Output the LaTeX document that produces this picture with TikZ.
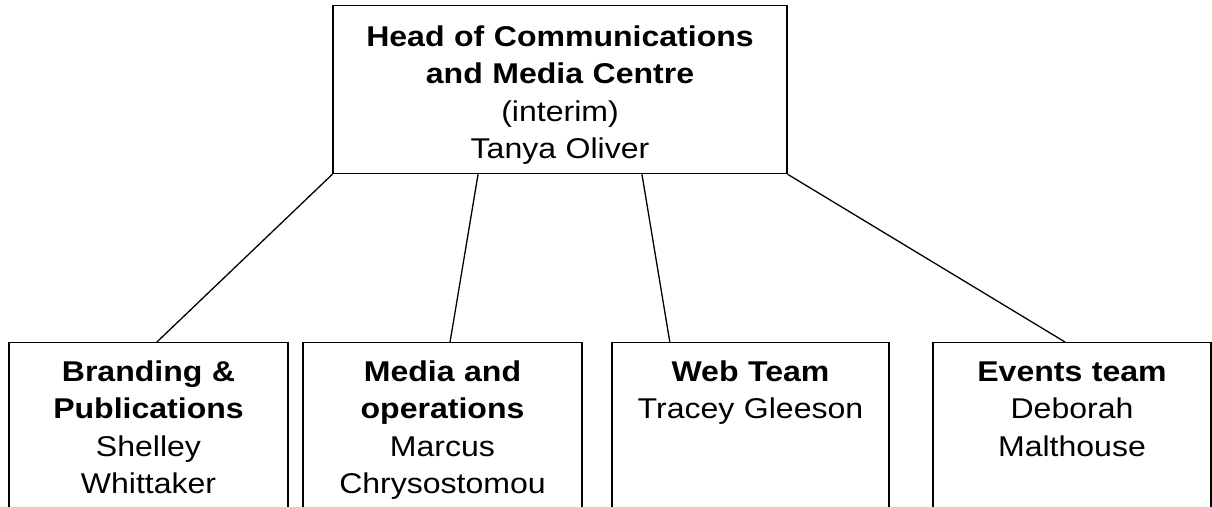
\documentclass[tikz,border=0pt]{standalone}
\usepackage{fontspec}
\setmainfont{Liberation Sans}[FakeStretch=1.12]
\usetikzlibrary{calc}
\tikzset{
  unit/.style = {draw=black, line width=1.3pt, align=center, anchor=north,
    inner xsep=4pt, inner ysep=18pt, text height=20.5pt,
    font=\fontsize{28.6}{37.5}\selectfont},
  team/.style = {unit, text width=260pt, minimum width=279pt, text depth=400pt},% box runs off the page
  headunit/.style = {unit, text width=440pt, minimum width=454pt, inner ysep=20pt, text depth=107.5pt},
  link/.style = {line width=1.3pt},
}
\begin{document}
\begin{tikzpicture}[x=1pt,y=-1pt]
\useasboundingbox (0,0) rectangle (1212,506);
\clip (0,0) rectangle (1212,506);
\node [headunit] (head) at (560,5)
  {\textbf{Head of Communications}\\ \textbf{and Media Centre}\\ (interim)\\ Tanya Oliver};
\node [team] (brand) at (148.5,342) {\textbf{Branding \&}\\ \textbf{Publications}\\ Shelley\\ Whittaker};
\node [team] (media) at (442.5,342) {\textbf{Media and}\\ \textbf{operations}\\ Marcus\\ Chrysostomou};
\node [team, minimum width=277pt] (web) at (750.5,342) {\textbf{Web Team}\\ Tracey Gleeson};
\node [team, minimum width=278pt] (events) at (1072,342) {\textbf{Events team}\\ Deborah\\ Malthouse};
% reporting lines
\draw [link] (head.south west) -- ($(brand.north west)!0.53!(brand.north east)$);
\draw [link] ($(head.south west)!0.32!(head.south east)$) -- ($(media.north west)!0.527!(media.north east)$);
\draw [link] ($(head.south west)!0.68!(head.south east)$) -- ($(web.north west)!0.21!(web.north east)$);
\draw [link] (head.south east) -- ($(events.north west)!0.475!(events.north east)$);
\end{tikzpicture}
\end{document}
